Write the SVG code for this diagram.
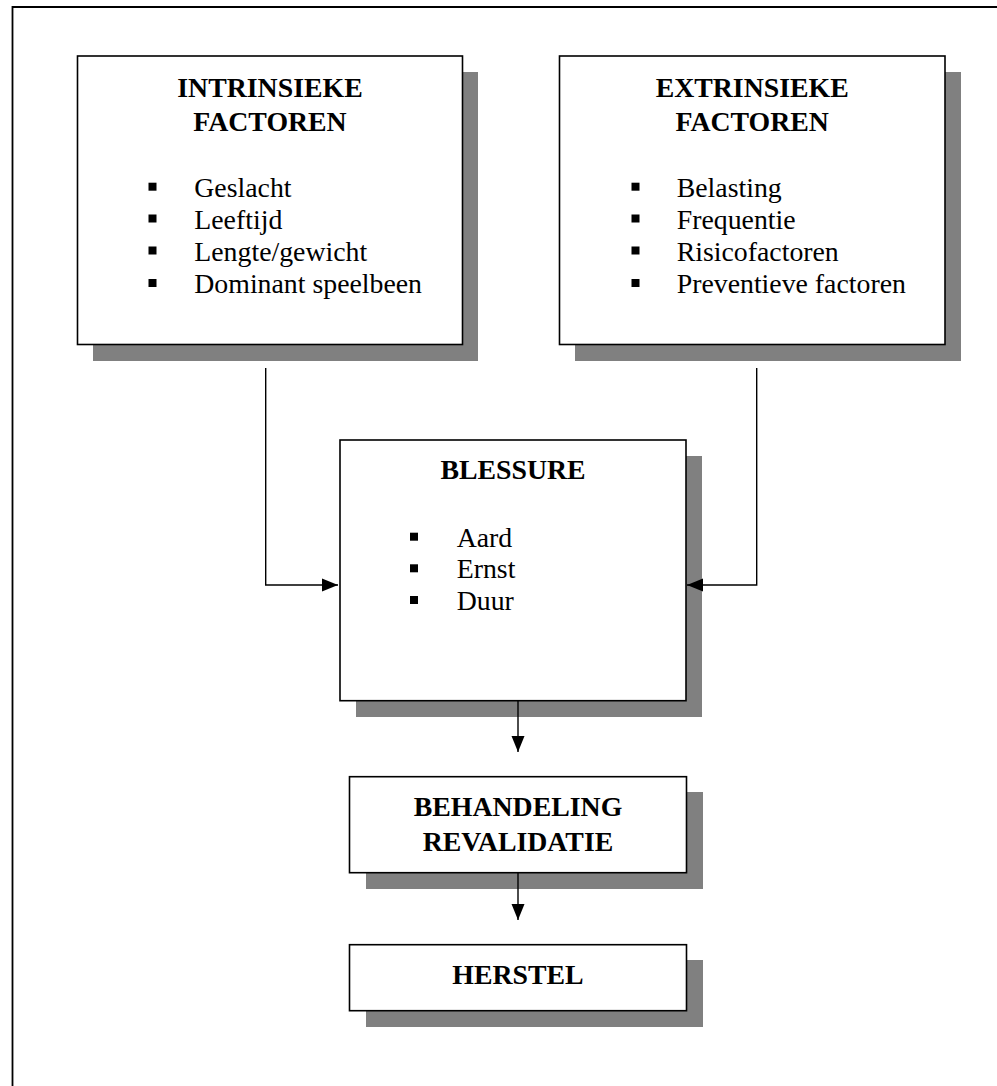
<svg xmlns="http://www.w3.org/2000/svg" width="997" height="1086" viewBox="0 0 997 1086">
<style>
.box{fill:#fff;stroke:#000;stroke-width:1.6}
.sh{fill:#808080}
.t{font-family:"Liberation Serif","Times New Roman",serif;font-weight:bold;font-size:27.8px;text-anchor:middle;fill:#000}
.b{font-family:"Liberation Serif","Times New Roman",serif;font-size:27.8px;fill:#000}
.bul{fill:#000}
.c{fill:none;stroke:#000;stroke-width:1.4}
</style>
<defs>
<marker id="arr" markerUnits="userSpaceOnUse" markerWidth="16" markerHeight="14" refX="16" refY="7" orient="auto">
<path d="M0,0.5 L16,7 L0,13.5 z" fill="#000"/>
</marker>
</defs>
<rect width="997" height="1086" fill="#fff"/>
<path d="M12.5,1086 V7 H997" fill="none" stroke="#000" stroke-width="1.8"/>
<g id="intrinsieke">
<rect class="sh" x="93" y="72" width="385" height="289"/>
<rect class="box" x="77.5" y="56" width="385" height="288.5"/>
<text class="t" x="270" y="96.5">INTRINSIEKE</text>
<text class="t" x="270" y="131">FACTOREN</text>
<rect class="bul" x="148.5" y="182.7" width="8" height="8"/>
<rect class="bul" x="148.5" y="214.5" width="8" height="8"/>
<rect class="bul" x="148.5" y="246.5" width="8" height="8"/>
<rect class="bul" x="148.5" y="279" width="8" height="8"/>
<text class="b" x="194.3" y="196.7">Geslacht</text>
<text class="b" x="194.3" y="228.5">Leeftijd</text>
<text class="b" x="194.3" y="260.7">Lengte/gewicht</text>
<text class="b" x="194.3" y="293.2">Dominant speelbeen</text>
</g>
<g id="extrinsieke">
<rect class="sh" x="575" y="72" width="386" height="289"/>
<rect class="box" x="559.5" y="56" width="385.5" height="288.5"/>
<text class="t" x="752.2" y="96.5">EXTRINSIEKE</text>
<text class="t" x="752.2" y="131">FACTOREN</text>
<rect class="bul" x="631.5" y="182.7" width="8" height="8"/>
<rect class="bul" x="631.5" y="214.5" width="8" height="8"/>
<rect class="bul" x="631.5" y="246.5" width="8" height="8"/>
<rect class="bul" x="631.5" y="279" width="8" height="8"/>
<text class="b" x="676.7" y="196.7">Belasting</text>
<text class="b" x="676.7" y="228.5">Frequentie</text>
<text class="b" x="676.7" y="260.7">Risicofactoren</text>
<text class="b" x="676.7" y="293.2">Preventieve factoren</text>
</g>
<g id="blessure">
<rect class="sh" x="356" y="456" width="346" height="261"/>
<rect class="box" x="340" y="440" width="346" height="260.7"/>
<text class="t" x="513" y="479.3">BLESSURE</text>
<rect class="bul" x="410" y="532.7" width="8" height="8"/>
<rect class="bul" x="410" y="564.3" width="8" height="8"/>
<rect class="bul" x="410" y="596" width="8" height="8"/>
<text class="b" x="456.7" y="546.7">Aard</text>
<text class="b" x="456.7" y="578.3">Ernst</text>
<text class="b" x="456.7" y="610">Duur</text>
</g>
<g id="behandeling">
<rect class="sh" x="366" y="792" width="337" height="97"/>
<rect class="box" x="349.5" y="776.7" width="337" height="96"/>
<text class="t" x="518" y="816">BEHANDELING</text>
<text class="t" x="518" y="850.7">REVALIDATIE</text>
</g>
<g id="herstel">
<rect class="sh" x="366" y="960" width="337" height="67"/>
<rect class="box" x="349.5" y="944.7" width="337" height="66"/>
<text class="t" x="518" y="984">HERSTEL</text>
</g>
<g id="connectors">
<path class="c" d="M265.7,368 V585 H338" marker-end="url(#arr)"/>
<path class="c" d="M756.7,368 V585 H687" marker-end="url(#arr)"/>
<path class="c" d="M518,701 V752" marker-end="url(#arr)"/>
<path class="c" d="M518,873 V920" marker-end="url(#arr)"/>
</g>
</svg>
